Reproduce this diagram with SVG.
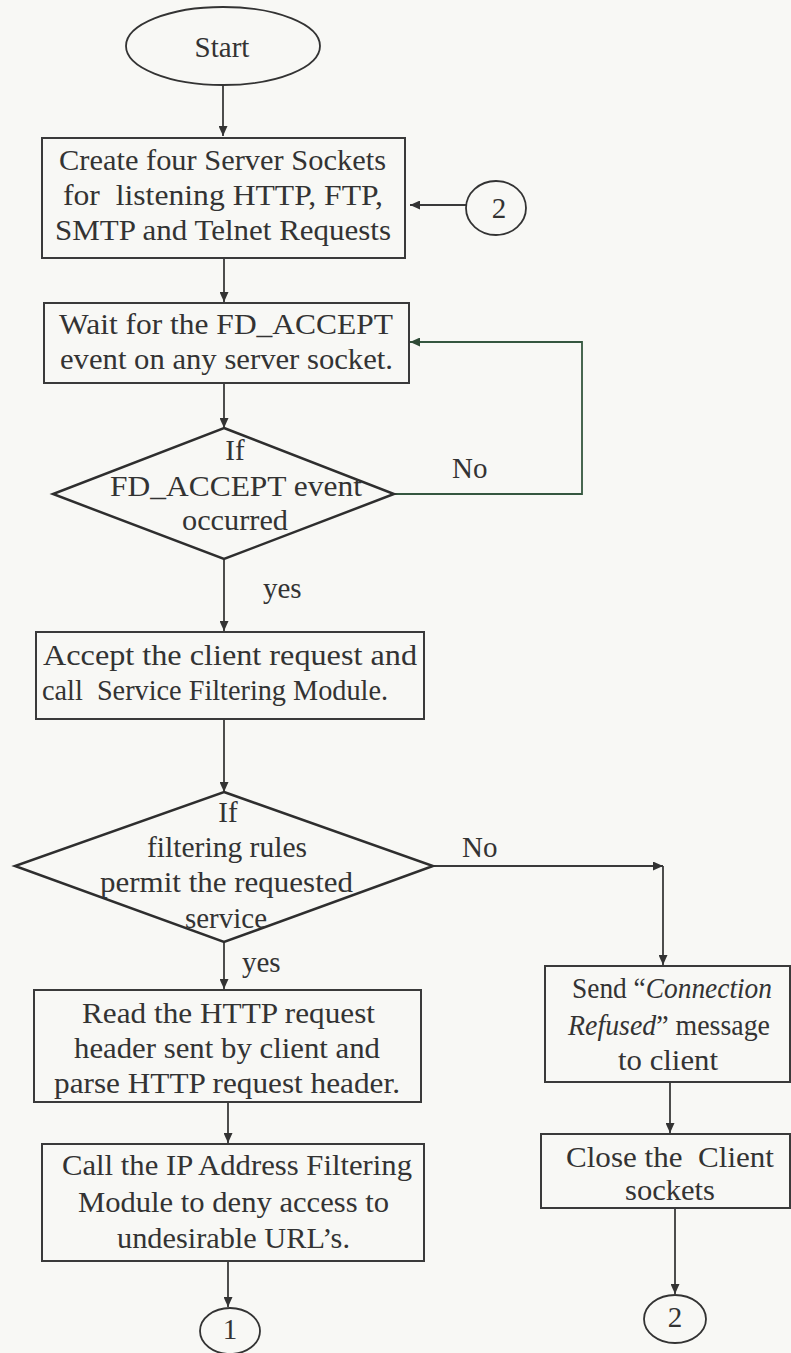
<svg xmlns="http://www.w3.org/2000/svg" width="791" height="1353" viewBox="0 0 791 1353">
  <style>
    .bg { fill: #f8f8f5; }
    .box { fill: none; stroke: #3a3a3a; stroke-width: 2; }
    .dia { fill: none; stroke: #2e2e2e; stroke-width: 2.5; }
    .term { fill: none; stroke: #333; stroke-width: 1.8; }
    .t { font-family: "Liberation Serif", "Times New Roman", serif; font-size: 29px; fill: #333; }
    .c { text-anchor: middle; }
    .it { font-style: italic; }
    .conn { fill: none; stroke: #3a3a3a; stroke-width: 1.8; }
    .loop { fill: none; stroke: #35573f; stroke-width: 1.8; }
  </style>
  <defs>
    <marker id="arrow" markerWidth="11" markerHeight="9" refX="10" refY="4.5" orient="auto" markerUnits="userSpaceOnUse">
      <path d="M0,0 L10,4.5 L0,9 z" fill="#333"/>
    </marker>
    <marker id="arrowG" markerWidth="11" markerHeight="9" refX="10" refY="4.5" orient="auto" markerUnits="userSpaceOnUse">
      <path d="M0,0 L10,4.5 L0,9 z" fill="#2f4a36"/>
    </marker>
  </defs>

  <rect class="bg" x="0" y="0" width="791" height="1353"/>

  <!-- connectors -->
  <g id="connectors">
    <path class="conn" d="M223,85 V136" marker-end="url(#arrow)"/>
    <path class="conn" d="M466,205 H410" marker-end="url(#arrow)"/>
    <path class="conn" d="M224,258 V302" marker-end="url(#arrow)"/>
    <path class="conn" d="M224,383 V428" marker-end="url(#arrow)"/>
    <path class="loop" d="M394,494 H582 V342 H410" marker-end="url(#arrowG)"/>
    <path class="conn" d="M224,559 V631" marker-end="url(#arrow)"/>
    <path class="conn" d="M224,719 V792" marker-end="url(#arrow)"/>
    <path class="conn" d="M433,866 H663" marker-end="url(#arrow)"/>
    <path class="conn" d="M663,866 V965" marker-end="url(#arrow)"/>
    <path class="conn" d="M224,942 V989" marker-end="url(#arrow)"/>
    <path class="conn" d="M228,1102 V1143" marker-end="url(#arrow)"/>
    <path class="conn" d="M228,1261 V1307" marker-end="url(#arrow)"/>
    <path class="conn" d="M670,1082 V1133" marker-end="url(#arrow)"/>
    <path class="conn" d="M675,1208 V1294" marker-end="url(#arrow)"/>
    <text class="t" x="452" y="478">No</text>
    <text class="t" x="263" y="598">yes</text>
    <text class="t" x="462" y="857">No</text>
    <text class="t" x="242" y="972">yes</text>
  </g>

  <!-- start terminal -->
  <g id="start">
    <ellipse class="term" cx="223" cy="46" rx="97" ry="39"/>
    <text class="t c" x="222" y="57">Start</text>
  </g>

  <!-- create listening sockets -->
  <g id="create-sockets">
    <rect class="box" x="42" y="138" width="363" height="120"/>
    <text class="t" x="59" y="170" textLength="327" lengthAdjust="spacingAndGlyphs">Create four Server Sockets</text>
    <text class="t" x="63" y="205" textLength="320" lengthAdjust="spacingAndGlyphs" xml:space="preserve">for  listening HTTP, FTP,</text>
    <text class="t" x="55" y="240" textLength="336" lengthAdjust="spacingAndGlyphs">SMTP and Telnet Requests</text>
  </g>

  <!-- connector 2 (entry) -->
  <g id="connector-2-in">
    <ellipse class="term" cx="496" cy="208" rx="30" ry="27"/>
    <text class="t c" x="499" y="218">2</text>
  </g>

  <!-- wait for accept -->
  <g id="wait-accept">
    <rect class="box" x="44" y="303" width="365" height="80"/>
    <text class="t" x="59" y="334" textLength="334" lengthAdjust="spacingAndGlyphs">Wait for the FD_ACCEPT</text>
    <text class="t" x="60" y="369" textLength="333" lengthAdjust="spacingAndGlyphs">event on any server socket.</text>
  </g>

  <!-- decision: accept event -->
  <g id="decision-accept">
    <polygon class="dia" points="224,428 394,494 224,559 53,494"/>
    <text class="t c" x="235" y="460">If</text>
    <text class="t" x="110" y="496" textLength="252" lengthAdjust="spacingAndGlyphs">FD_ACCEPT event</text>
    <text class="t" x="182" y="530" textLength="106" lengthAdjust="spacingAndGlyphs">occurred</text>
  </g>

  <!-- accept client -->
  <g id="accept-client">
    <rect class="box" x="36" y="632" width="388" height="87"/>
    <text class="t" x="43" y="665" textLength="374" lengthAdjust="spacingAndGlyphs">Accept the client request and</text>
    <text class="t" x="42" y="700" textLength="346" lengthAdjust="spacingAndGlyphs" xml:space="preserve">call  Service Filtering Module.</text>
  </g>

  <!-- decision: filtering rules -->
  <g id="decision-filter">
    <polygon class="dia" points="224,792 433,866 224,942 15,866"/>
    <text class="t c" x="228" y="822">If</text>
    <text class="t" x="147" y="857" textLength="160" lengthAdjust="spacingAndGlyphs">filtering rules</text>
    <text class="t" x="100" y="892" textLength="253" lengthAdjust="spacingAndGlyphs">permit the requested</text>
    <text class="t" x="185" y="928" textLength="82" lengthAdjust="spacingAndGlyphs">service</text>
  </g>

  <!-- read request header -->
  <g id="read-header">
    <rect class="box" x="34" y="990" width="387" height="112"/>
    <text class="t" x="82" y="1023" textLength="293" lengthAdjust="spacingAndGlyphs">Read the HTTP request</text>
    <text class="t" x="74" y="1058" textLength="306" lengthAdjust="spacingAndGlyphs">header sent by client and</text>
    <text class="t" x="54" y="1093" textLength="346" lengthAdjust="spacingAndGlyphs">parse HTTP request header.</text>
  </g>

  <!-- ip address filtering -->
  <g id="ip-filter">
    <rect class="box" x="42" y="1144" width="382" height="117"/>
    <text class="t" x="62" y="1175" textLength="350" lengthAdjust="spacingAndGlyphs">Call the IP Address Filtering</text>
    <text class="t" x="78" y="1212" textLength="311" lengthAdjust="spacingAndGlyphs">Module to deny access to</text>
    <text class="t" x="117" y="1248" textLength="233" lengthAdjust="spacingAndGlyphs">undesirable URL’s.</text>
  </g>

  <!-- connector 1 (exit) -->
  <g id="connector-1">
    <ellipse class="term" cx="230" cy="1331" rx="30" ry="23"/>
    <text class="t c" x="230" y="1339">1</text>
  </g>

  <!-- refuse connection -->
  <g id="send-refused">
    <rect class="box" x="545" y="966" width="245" height="116"/>
    <text class="t" x="572" y="998" textLength="200" lengthAdjust="spacingAndGlyphs">Send “<tspan class="it">Connection</tspan></text>
    <text class="t" x="568" y="1035" textLength="202" lengthAdjust="spacingAndGlyphs"><tspan class="it">Refused</tspan>” message</text>
    <text class="t" x="618" y="1070" textLength="100" lengthAdjust="spacingAndGlyphs">to client</text>
  </g>

  <!-- close client sockets -->
  <g id="close-sockets">
    <rect class="box" x="541" y="1134" width="249" height="74"/>
    <text class="t" x="566" y="1167" textLength="208" lengthAdjust="spacingAndGlyphs" xml:space="preserve">Close the  Client</text>
    <text class="t" x="625" y="1200" textLength="90" lengthAdjust="spacingAndGlyphs">sockets</text>
  </g>

  <!-- connector 2 (exit) -->
  <g id="connector-2-out">
    <ellipse class="term" cx="675" cy="1319" rx="31" ry="24"/>
    <text class="t c" x="675" y="1327">2</text>
  </g>
</svg>
